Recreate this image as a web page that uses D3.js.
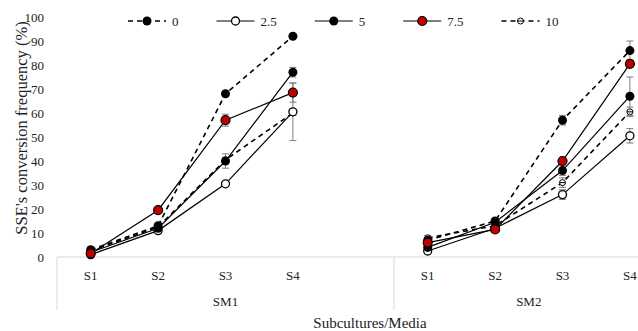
<!DOCTYPE html>
<html lang="en">
<head>
<meta charset="UTF-8">
<title>SSE conversion frequency</title>
<style>
    body { margin: 0; background: #fff; }
    svg { display: block; font-family: 'Liberation Serif', 'Times New Roman', serif; }
</style>
</head>
<body>
<div id="chart"></div>
<script src="https://d3js.org/d3.v7.min.js"></script>
<script>
    // categories: SM1 S1..S4, an empty slot, SM2 S1..S4
    const groups = ["SM1", "SM2"];
    const subcultures = ["S1", "S2", "S3", "S4"];
    const yTicks = [0, 10, 20, 30, 40, 50, 60, 70, 80, 90, 100];

    const seriesNames = ["0", "2.5", "5", "7.5", "10"];
    // values per series: [SM1 S1..S4, SM2 S1..S4]
    const vals0   = [3, 13, 68, 92, 7, 15, 57, 86];
    const vals25  = [1, 11, 30.5, 60.5, 2.5, 12, 26, 50.5];
    const vals5   = [2, 12, 40, 77, 4, 14.5, 36, 67];
    const vals75  = [1.5, 19.5, 57, 68.5, 6, 11.5, 40, 80.5];
    const vals10  = [2.5, 12.5, 40.5, 60, 8, 13, 31, 60.5];
    // error bars (same order)
    const err0   = [0.5, 0.5, 1, 1, 1, 1, 2, 4];
    const err25  = [0.5, 0.5, 1, 12, 1, 1, 2, 3];
    const err5   = [0.5, 0.5, 3, 2, 1, 1, 2, 8];
    const err75  = [0.5, 0.5, 2.5, 4, 1, 1, 1, 1];
    const err10  = [0.5, 0.5, 1, 1, 1, 1, 2, 2];

    const seriesVals = [vals0, vals25, vals5, vals75, vals10];
    const seriesErr = [err0, err25, err5, err75, err10];
    const styles = [
        { dash: "5,4", width: 1.6, marker: "filled" },
        { dash: null,  width: 1.2, marker: "open" },
        { dash: null,  width: 1.2, marker: "filled" },
        { dash: null,  width: 1.2, marker: "red" },
        { dash: "5,4", width: 1.6, marker: "small" }
    ];
    // series 10 sits underneath the others
    const drawOrder = [4, 0, 1, 2, 3];

    const W = 638, H = 331;
    const svg = d3.select("#chart").append("svg")
        .attr("width", W).attr("height", H);

    const slots = [];
    groups.forEach((g, gi) => {
        subcultures.forEach(s => slots.push(g + "|" + s));
        if (gi === 0) slots.push("SM1|blank");
    });

    const x = d3.scaleBand().domain(slots).range([57, 57 + 67.4 * slots.length]);
    const y = d3.scaleLinear().domain([0, 100]).range([257, 17]);

    const slotOf = i => groups[Math.floor(i / 4)] + "|" + subcultures[i % 4];
    const cx = i => x(slotOf(i)) + x.bandwidth() / 2;

    // y tick labels
    svg.append("g").selectAll("text").data(yTicks).join("text")
        .attr("x", 44).attr("y", d => y(d)).attr("dy", "0.35em")
        .attr("text-anchor", "end").attr("font-size", 13).attr("fill", "#222")
        .text(d => d);

    // x axis baseline and group dividers
    svg.append("line").attr("x1", 57).attr("x2", W).attr("y1", y(0)).attr("y2", y(0))
        .attr("stroke", "#d9d9d9").attr("stroke-width", 1);
    const dividers = [x(slots[0]), x("SM2|S1")];
    svg.append("g").selectAll("line").data(dividers).join("line")
        .attr("x1", d => d).attr("x2", d => d).attr("y1", y(0)).attr("y2", 310)
        .attr("stroke", "#d9d9d9");

    // category labels
    const catG = svg.append("g");
    d3.range(8).forEach(i => {
        catG.append("text").attr("x", cx(i)).attr("y", 280)
            .attr("text-anchor", "middle").attr("font-size", 13).attr("fill", "#222")
            .text(subcultures[i % 4]);
    });
    const groupCenter = [
        (x(slots[0]) + x("SM2|S1")) / 2,
        (x("SM2|S1") + x("SM2|S4") + x.bandwidth()) / 2
    ];
    catG.selectAll(".grp").data(groups).join("text").attr("class", "grp")
        .attr("x", (d, i) => groupCenter[i]).attr("y", 306)
        .attr("text-anchor", "middle").attr("font-size", 13).attr("fill", "#222")
        .text(d => d);

    // axis titles
    svg.append("text").attr("x", 370).attr("y", 328)
        .attr("text-anchor", "middle").attr("font-size", 15).attr("fill", "#222")
        .text("Subcultures/Media");
    svg.append("text").attr("transform", "translate(27,128) rotate(-90)")
        .attr("text-anchor", "middle").attr("font-size", 16.5).attr("fill", "#222")
        .text("SSE's conversion frequency (%)");

    function drawMarker(g, type, px, py) {
        if (type === "filled") {
            g.append("circle").attr("cx", px).attr("cy", py).attr("r", 4.5).attr("fill", "#000");
        } else if (type === "open") {
            g.append("circle").attr("cx", px).attr("cy", py).attr("r", 4)
                .attr("fill", "#fff").attr("stroke", "#000").attr("stroke-width", 1.3);
        } else if (type === "red") {
            g.append("circle").attr("cx", px).attr("cy", py).attr("r", 4.5)
                .attr("fill", "#c00000").attr("stroke", "#000").attr("stroke-width", 1.2);
        } else {
            g.append("circle").attr("cx", px).attr("cy", py).attr("r", 3)
                .attr("fill", "#fff").attr("stroke", "#000").attr("stroke-width", 1);
            g.append("line").attr("x1", px - 3).attr("x2", px + 3).attr("y1", py).attr("y2", py)
                .attr("stroke", "#000").attr("stroke-width", 1);
        }
    }

    const line = d3.line().x(d => cx(d.i)).y(d => y(d.v));
    const plot = svg.append("g");

    drawOrder.forEach(si => {
        const vals = seriesVals[si];
        const st = styles[si];
        const g = plot.append("g");
        // error bars
        vals.forEach((v, i) => {
            const e = seriesErr[si][i];
            const px = cx(i);
            g.append("line").attr("x1", px).attr("x2", px)
                .attr("y1", y(v - e)).attr("y2", y(v + e))
                .attr("stroke", "#7f7f7f").attr("stroke-width", 1);
            [v - e, v + e].forEach(ev => {
                g.append("line").attr("x1", px - 3.5).attr("x2", px + 3.5)
                    .attr("y1", y(ev)).attr("y2", y(ev))
                    .attr("stroke", "#7f7f7f").attr("stroke-width", 1);
            });
        });
        // lines per group
        groups.forEach((grp, gi) => {
            const pts = d3.range(4).map(k => ({ i: gi * 4 + k, v: vals[gi * 4 + k] }));
            g.append("path").attr("d", line(pts)).attr("fill", "none")
                .attr("stroke", "#000").attr("stroke-width", st.width)
                .attr("stroke-dasharray", st.dash);
        });
        vals.forEach((v, i) => drawMarker(g, st.marker, cx(i), y(v)));
    });

    // legend
    const leg = svg.append("g");
    let lx = 128;
    seriesNames.forEach((name, si) => {
        const st = styles[si];
        const item = leg.append("g");
        item.append("line").attr("x1", lx).attr("x2", lx + 38).attr("y1", 21).attr("y2", 21)
            .attr("stroke", "#000").attr("stroke-width", st.width)
            .attr("stroke-dasharray", st.dash);
        drawMarker(item, st.marker, lx + 19, 21);
        const t = item.append("text").attr("x", lx + 44).attr("y", 21).attr("dy", "0.35em")
            .attr("font-size", 13).attr("fill", "#222").text(name);
        lx += 44 + t.node().getComputedTextLength() + 38;
    });
</script>
</body>
</html>
